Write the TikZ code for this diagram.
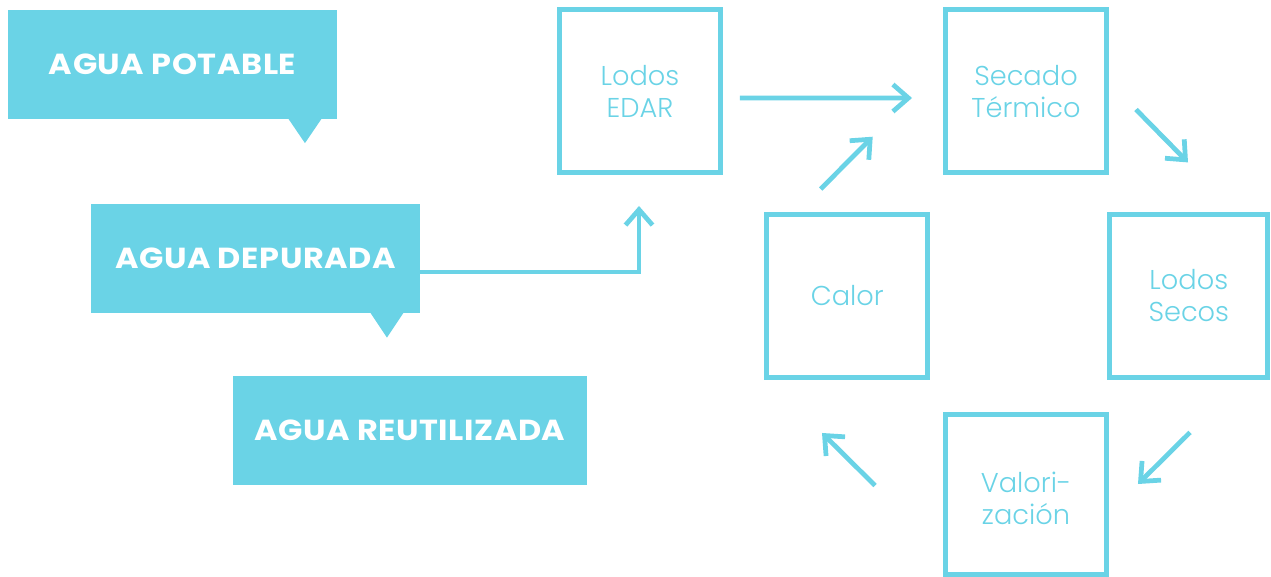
\documentclass[tikz,border=0pt]{standalone}
\usepackage{fontspec}
\newfontfamily\boldf{Poppins Bold}[FakeStretch=1.1,LetterSpace=2]
\newfontfamily\lightf{Poppins Light}
\usetikzlibrary{arrows.meta,calc}
\definecolor{cy}{RGB}{106,211,230}
\begin{document}
\begin{tikzpicture}[x=0.02cm,y=-0.02cm,
  tag/.style={fill=cy, text=white, font=\boldf\fontsize{16.5}{20}\selectfont, inner sep=0pt, outer sep=0pt, minimum height=2.174cm},
  stage/.style={draw=cy, line width=0.1cm, text=cy, font=\lightf\fontsize{15.5}{18.2}\selectfont, align=center, minimum width=3.22cm, minimum height=3.26cm, inner sep=0pt},
  stagetext/.style={text=cy, font=\lightf\fontsize{15.5}{18.2}\selectfont, align=center, inner sep=0pt},
  arr/.style={draw=cy, line width=0.095cm, -{Straight Barb[length=0.31cm,width=0.54cm,sharp]}},
  ptr/.style={fill=cy}]
\useasboundingbox (0,0) rectangle (1271,577);

% speech-style tags
\node[tag, minimum width=6.58cm] (potable) at (172.5,64.3) {AGUA POTABLE};
\node[tag, minimum width=6.58cm] (depurada) at (255.5,258.3) {AGUA DEPURADA};
\node[tag, minimum width=7.086cm] (reutil) at (409.8,430.3) {AGUA REUTILIZADA};
\fill[ptr] ($(potable.south east)+(-49,-0.5)$) -- ($(potable.south east)+(-15,-0.5)$) -- ($(potable.south east)+(-32,24.5)$) -- cycle;
\fill[ptr] ($(depurada.south east)+(-50,-0.5)$) -- ($(depurada.south east)+(-16,-0.5)$) -- ($(depurada.south east)+(-33,25)$) -- cycle;

% process boxes
\node[stage] (edar) at (640,91) {Lodos\\EDAR};
\node[stage] (secado) at (1026,91.3) {Secado\\Térmico};
\node[stage] (calor) at (847.3,295.7) {Calor};
\node[stage, minimum width=3.16cm] (secos) at (1188.8,295.6) {Lodos\\Secos};
\node[stage, minimum height=3.19cm] (valor) at (1026,494.7) {};
\node[stagetext] (valortxt) at ($(valor.center)+(0,4)$) {Valori-\\zación};

% connectors
\draw[arr] ($(depurada.east)+(0,13.7)$) -| ($(edar.south)+(-1,31)$);
\draw[arr] ($(edar.east)+(17,7)$) -- ($(secado.west)+(-31,6.7)$);
\draw[arr] ($(calor.north)+(-26.6,-22.7)$) -- ($(calor.north)+(25.4,-75)$);
\draw[arr] ($(secado.east)+(27,18.2)$) -- ($(secos.north)+(-0.8,-49.2)$);
\draw[arr] ($(secos.south)+(1.2,52.8)$) -- ($(valor.east)+(29,-10.7)$);
\draw[arr] ($(valor.west)+(-68,-9.2)$) -- ($(calor.south)+(-25.3,53.3)$);
\end{tikzpicture}
\end{document}
